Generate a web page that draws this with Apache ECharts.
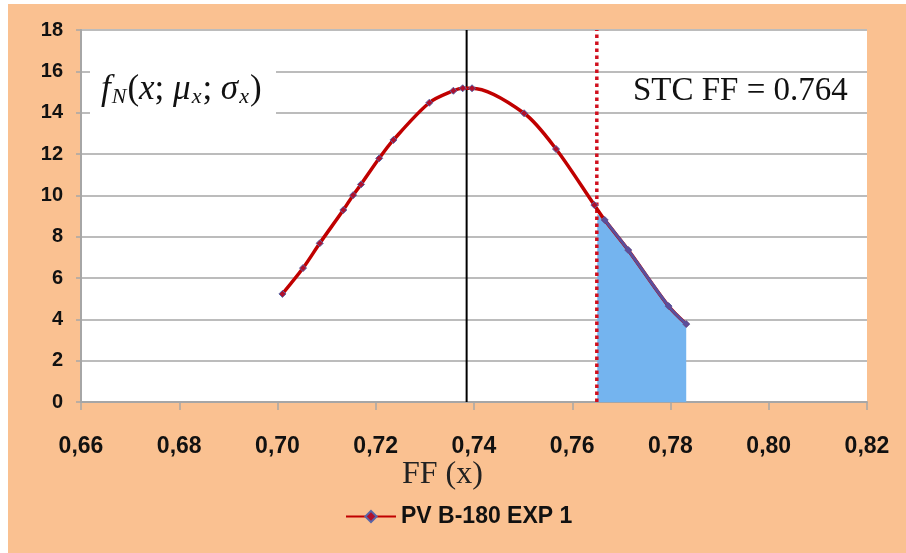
<!DOCTYPE html>
<html>
<head>
<meta charset="utf-8">
<script src="https://cdn.jsdelivr.net/npm/echarts@6/dist/echarts.min.js"></script>
<style>html,body{margin:0;padding:0;background:#fff}#c{width:906px;height:553px}</style>
</head>
<body>
<div id="c"></div>
<script>
// Data
const ffValues = [0.7010, 0.7052, 0.7086, 0.7134, 0.7154, 0.7170, 0.7207, 0.7236, 0.7309, 0.7358, 0.7377, 0.7396, 0.7502, 0.7567, 0.7645, 0.7666, 0.7714, 0.7796, 0.7832];
const densityValues = [5.23, 6.48, 7.68, 9.29, 10.01, 10.53, 11.79, 12.68, 14.48, 15.06, 15.18, 15.18, 13.97, 12.24, 9.53, 8.81, 7.35, 4.64, 3.77];
const shadeX = [0.7651, 0.7666, 0.7714, 0.7796, 0.7832];
const shadeY = [9.1, 8.81, 7.35, 4.64, 3.77];
const meanFF = 0.7385;
const stcFF = 0.765;
const yRange = [0, 18];
const xRange = [0.66, 0.82];
const seriesName = 'PV B-180 EXP 1';

const mainData = ffValues.map((x, i) => [x, densityValues[i]]);
const shadeData = shadeX.map((x, i) => [x, shadeY[i]]);

const chart = echarts.init(document.getElementById('c'), null, {renderer: 'canvas'});
chart.setOption({
  animation: false,
  backgroundColor: '#fff',
  grid: {left: 81, right: 39, top: 30, bottom: 151, show: true, backgroundColor: '#fff', borderWidth: 0},
  graphic: [
    {type: 'rect', z: -10, silent: true, shape: {x: 8, y: 4, width: 898, height: 549}, style: {fill: '#fac191'}},
    {type: 'rect', z: 10, shape: {x: 90, y: 68, width: 186, height: 48}, style: {fill: '#fff'}},
    {type: 'text', z: 11, left: 101, top: 72, style: {
      text: '{i|f}{s|N}{n|(}{i|x}{n|; }{i|μ}{s|x}{n|; }{i|σ}{s|x}{n|)}',
      rich: {
        i: {fontFamily: 'Liberation Serif', fontStyle: 'italic', fontSize: 35, fill: '#111'},
        n: {fontFamily: 'Liberation Serif', fontSize: 35, fill: '#111'},
        s: {fontFamily: 'Liberation Serif', fontStyle: 'italic', fontSize: 22, fill: '#111', verticalAlign: 'bottom', padding: [16, 1, 0, 1]}
      }
    }},
    {type: 'text', z: 11, left: 633, top: 75, style: {text: 'STC FF = 0.764', fontFamily: 'Liberation Serif', fontSize: 33, fill: '#111'}},
    {type: 'text', z: 11, left: 402, top: 459, style: {text: 'FF (x)', fontFamily: 'Liberation Serif', fontSize: 32, fill: '#222'}}
  ],
  legend: {
    data: [seriesName],
    left: 340, top: 500,
    itemWidth: 50, itemHeight: 14, itemGap: 5,
    textStyle: {fontFamily: 'Liberation Sans', fontWeight: 'bold', fontSize: 23, color: '#111'}
  },
  xAxis: {
    type: 'value', min: xRange[0], max: xRange[1], interval: 0.02,
    axisLine: {show: true, lineStyle: {color: '#a6a6a6', width: 2}},
    axisTick: {show: true, length: 8, lineStyle: {color: '#a6a6a6', width: 1.5}},
    splitLine: {show: false},
    axisLabel: {margin: 33, fontFamily: 'Liberation Sans', fontWeight: 'bold', fontSize: 23, color: '#111',
      formatter: v => v.toFixed(2).replace('.', ',')}
  },
  yAxis: {
    type: 'value', min: yRange[0], max: yRange[1], interval: 2,
    axisLine: {show: true, lineStyle: {color: '#a6a6a6', width: 2}},
    axisTick: {show: true, length: 5, lineStyle: {color: '#a6a6a6', width: 1.5}},
    splitLine: {show: true, lineStyle: {color: '#bcbcbc', width: 2}},
    axisLabel: {margin: 18, fontFamily: 'Liberation Sans', fontWeight: 'bold', fontSize: 20, color: '#111'}
  },
  series: [
    {
      name: 'shade', type: 'line', data: shadeData, smooth: 0.3, z: 3,
      symbol: 'none', lineStyle: {width: 0}, areaStyle: {color: '#74b4ef', opacity: 1}
    },
    {
      name: 'mean', type: 'line', data: [[meanFF, yRange[0]], [meanFF, yRange[1]]], z: 4,
      symbol: 'none', lineStyle: {color: '#000', width: 2}
    },
    {
      name: 'stc', type: 'line', data: [[stcFF, yRange[0]], [stcFF, yRange[1]]], z: 4,
      symbol: 'none', lineStyle: {color: '#d0101e', width: 3.5, type: [3.5, 3.5]}
    },
    {
      name: seriesName, type: 'line', data: mainData, smooth: 0.3, z: 5,
      symbol: 'diamond', symbolSize: 7, showSymbol: true,
      lineStyle: {color: '#c00000', width: 3.5},
      itemStyle: {color: '#b0102c', borderColor: '#5865a8', borderWidth: 1}
    },
    {
      name: 'shadeLine', type: 'line', data: shadeData.slice(1), smooth: 0.3, z: 6,
      symbol: 'diamond', symbolSize: 6,
      lineStyle: {color: '#5a4f9c', width: 3},
      itemStyle: {color: '#5a4f9c'}
    }
  ]
});
</script>
</body>
</html>
